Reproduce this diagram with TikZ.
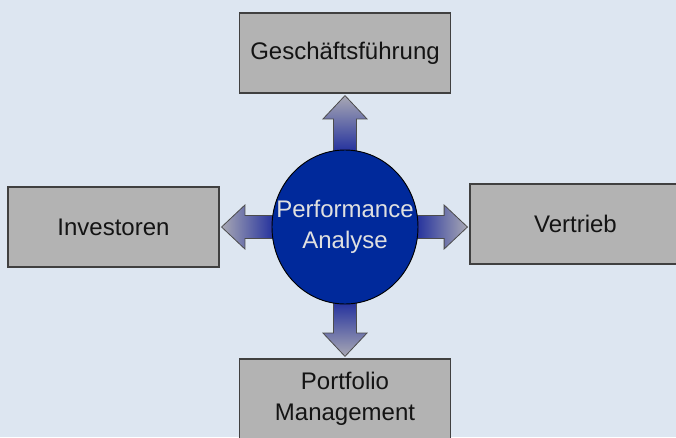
\documentclass[tikz,border=0pt]{standalone}
\usepackage{fontspec}
\setmainfont{Liberation Sans}
\usepackage{xcolor}
\usetikzlibrary{calc,shapes.geometric,backgrounds}

\definecolor{hgblau}{HTML}{DDE6F1}
\definecolor{boxgrau}{HTML}{B3B3B3}
\definecolor{kreisblau}{HTML}{00299B}
\definecolor{pfblau}{HTML}{1C2A9C}
\definecolor{pfgrau}{HTML}{A8A8B4}

\begin{document}
\begin{tikzpicture}[x=1pt, y=1pt, every node/.style={font=\fontsize{18}{23.5}\selectfont, align=center},
    bereich/.style={rectangle, draw=black!75, line width=0.9pt, fill=boxgrau, text=black!92, minimum width=158.25pt, minimum height=60pt, inner sep=0pt},
    kern/.style={ellipse, draw=black, line width=0.7pt, fill=kreisblau, minimum width=109.5pt, minimum height=115.5pt, inner sep=0pt},
    kerntext/.style={text=black!12, inner sep=0pt},
    pfeil/.style={draw=black!70, line width=0.6pt}]
    \clip (0,0) rectangle (507,-327.75);
    \node (pa) [kern, label={[kerntext]center:Performance\\Analyse}] at (258.75,-170.25) {};
    \node (gf) [bereich] at (258.75,-39.75) {Geschäftsführung};
    \node (inv) [bereich] at (85.1,-170.25) {Investoren};
    \node (ver) [bereich] at (431.6,-168) {Vertrieb};
    \node (pm) [bereich] at (258.75,-299.25) {Portfolio\\Management};
    \begin{scope}[on background layer]
    \fill[hgblau] (0,0) rectangle (507,-327.75);
    \foreach \ziel/\za/\qa/\winkel in {gf/south/north/90, inv/east/west/180, ver/west/east/0, pm/north/south/-90}
      \path[pfeil, top color=pfgrau, bottom color=pfblau, shading angle=\winkel-90]
        let \p1=($(\ziel.\za)-(pa.\qa)$), \n1={veclen(\x1,\y1)-1.5pt} in
        [shift={(pa.\qa)}, rotate=\winkel]
        (-4pt,-8.6pt) -- ({\n1-17.5pt},-8.6pt) -- ({\n1-17.5pt},-16.5pt) -- (\n1,0pt)
        -- ({\n1-17.5pt},16.5pt) -- ({\n1-17.5pt},8.6pt) -- (-4pt,8.6pt) -- cycle;
    \end{scope}
\end{tikzpicture}
\end{document}
